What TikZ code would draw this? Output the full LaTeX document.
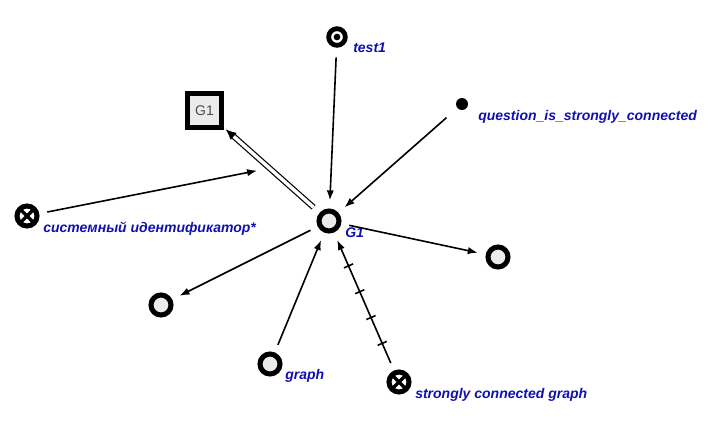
\documentclass[tikz,border=0pt]{standalone}
\usepackage{fontspec}
\setsansfont{Liberation Sans}
\usepackage{tikz}
\usetikzlibrary{arrows.meta, decorations.markings}
\definecolor{lblblue}{RGB}{16,16,176}
\tikzset{node0/.style={circle, draw, line width=3.8pt, fill=black!8, minimum size=15pt, inner sep=0pt, outer sep=8pt}}
\tikzset{nodeconst/.style={circle, draw, line width=3.6pt, fill=white, minimum size=12.5pt, inner sep=0pt, outer sep=9pt,
		path picture={\fill[black] (path picture bounding box.center) circle (2.5pt);}}}
\tikzset{nodecross/.style={node0, fill=white,
		path picture={\draw[black, line width=2.6pt] (path picture bounding box.south west) -- (path picture bounding box.north east)
			(path picture bounding box.north west) -- (path picture bounding box.south east);}}}
\tikzset{nodedot/.style={circle, fill, minimum size=9pt, inner sep=0pt, outer sep=11pt}}
\tikzset{sqbox/.style={rectangle, draw, line width=3.75pt, fill=black!8, minimum size=25.5pt, inner sep=0pt, outer sep=3pt,
		text=black!70, font=\sffamily\fontsize{10.5}{12}\selectfont}}
\tikzset{lbl/.style={anchor=base west, inner sep=0pt, text=lblblue, font=\sffamily\bfseries\itshape\fontsize{10.5}{12}\selectfont}}
\tikzset{arr1/.style={draw, -{Latex[length=7.5pt, width=5.5pt]}, line width=1.2pt}}
% double line, the filled head is put on by a marking
\tikzset{arr2/.style={draw, double, double distance=2.6pt, line width=0.9pt, shorten >=6pt,
		postaction={decorate}, decoration={markings,
		mark=at position 1 with {\arrow[line width=0.9pt]{Latex[length=8pt, width=7pt]}}}}}
\tikzset{ticked/.style={postaction={decorate}, decoration={markings,
		mark=between positions 0.16 and 0.8 step 0.21 with {\draw[-, line width=1.2pt] (0,-3.75pt) -- (0,3.75pt);}}}}

\begin{document}
\begin{tikzpicture}[x=0.75pt, y=-0.75pt]
	\useasboundingbox (0,0) rectangle (712,426);

	\node[node0] (g1) at (329, 221) {};
	\node[lbl] (g1-lbl) at (345, 237) {G1};

	\node[nodeconst] (t1) at (337, 37) {};
	\node[lbl] (t1-lbl) at (353, 52) {test1};

	\node[nodedot] (qsc) at (462, 104) {};
	\node[lbl] (qsc-lbl) at (478, 120) {question\_is\_strongly\_connected};

	\node[sqbox] (g1sq) at (204.5, 110.5) {G1};

	\node[nodecross] (sysid) at (27, 216) {};
	\node[lbl] (sysid-lbl) at (43, 232) {системный идентификатор*};

	\node[node0] (out1) at (498, 257) {};
	\node[node0] (out2) at (161, 305) {};

	\node[node0] (graph) at (270, 364) {};
	\node[lbl] (graph-lbl) at (285, 379) {graph};

	\node[nodecross] (scg) at (399, 382) {};
	\node[lbl] (scg-lbl) at (415, 398) {strongly connected graph};

	\draw[arr1] (t1) -- (g1);
	\draw[arr1] (qsc) -- (g1);
	\draw[arr2] (g1) -- coordinate[pos=0.5] (g1mid) (g1sq);
	\draw[arr1, shorten >=9.5pt] (sysid) -- (g1mid);
	\draw[arr1] (g1) -- (out1);
	\draw[arr1] (g1) -- (out2);
	\draw[arr1] (graph) -- (g1);
	\draw[arr1, ticked] (scg) -- (g1);
\end{tikzpicture}
\end{document}
